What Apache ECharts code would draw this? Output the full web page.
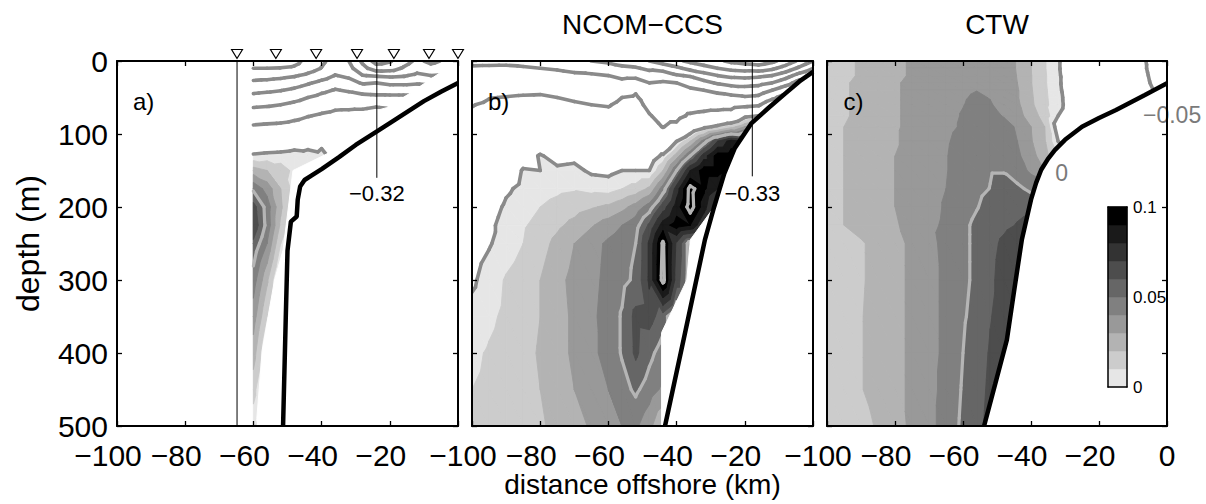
<!DOCTYPE html>
<html>
<head>
<meta charset="utf-8">
<script src="https://cdn.jsdelivr.net/npm/echarts@6/dist/echarts.min.js"></script>
<style>
  html, body { margin: 0; padding: 0; background: #fff; }
  #chart { width: 1206px; height: 504px; }
</style>
</head>
<body>
<div id="chart"></div>
<script>
// Cross-shelf sections of along-shore velocity anomaly: observations (a),
// NCOM-CCS model (b) and coastal-trapped-wave solution (c).
const FONT = 'Liberation Sans, Arial, Helvetica, sans-serif';

// grid nodes (distance offshore in km, depth in m)
const offshoreKm = [-100, -95, -90, -85, -80, -75, -70, -65, -60, -56, -52, -48, -44, -40, -36, -32, -28, -24, -20, -16, -12, -8, -4, 0];
const depthM = [0, 10, 20, 30, 40, 50, 60, 75, 90, 110, 130, 150, 175, 200, 225, 250, 300, 350, 400, 450, 500];
const _ = null;

// a) observed section (no data west of -60 km)
const obsA = [
  [_,_,_,_,_,_,_,_, -0.28,-0.28,-0.275,-0.265,-0.235,-0.21,-0.18,-0.2,-0.26,-0.32,-0.305,-0.27,-0.24,-0.26,-0.245,-0.2],
  [_,_,_,_,_,_,_,_, -0.25,-0.25,-0.248,-0.243,-0.222,-0.198,-0.168,-0.185,-0.235,-0.275,-0.27,-0.245,-0.22,-0.235,-0.225,-0.19],
  [_,_,_,_,_,_,_,_, -0.22,-0.218,-0.213,-0.205,-0.19,-0.17,-0.148,-0.16,-0.198,-0.205,-0.21,-0.205,-0.19,-0.2,-0.195,-0.17],
  [_,_,_,_,_,_,_,_, -0.19,-0.186,-0.18,-0.17,-0.155,-0.138,-0.122,-0.132,-0.155,-0.15,-0.16,-0.16,-0.155,-0.16,-0.16,-0.15],
  [_,_,_,_,_,_,_,_, -0.163,-0.158,-0.152,-0.142,-0.128,-0.11,-0.097,-0.105,-0.115,-0.118,-0.12,-0.12,-0.12,-0.125,-0.13,-0.13],
  [_,_,_,_,_,_,_,_, -0.135,-0.13,-0.125,-0.115,-0.1,-0.087,-0.077,-0.08,-0.087,-0.09,-0.09,-0.09,-0.09,-0.095,-0.1,-0.1],
  [_,_,_,_,_,_,_,_, -0.108,-0.105,-0.1,-0.09,-0.078,-0.068,-0.06,-0.06,-0.06,-0.055,-0.058,-0.065,-0.065,-0.07,-0.075,-0.08],
  [_,_,_,_,_,_,_,_, -0.076,-0.073,-0.07,-0.062,-0.052,-0.045,-0.04,-0.038,-0.035,-0.03,-0.035,-0.04,-0.045,-0.05,-0.055,-0.06],
  [_,_,_,_,_,_,_,_, -0.045,-0.042,-0.04,-0.035,-0.028,-0.025,-0.02,-0.016,-0.015,-0.01,-0.015,-0.02,-0.025,-0.03,-0.035,-0.04],
  [_,_,_,_,_,_,_,_, -0.02,-0.018,-0.016,-0.012,-0.008,-0.003,-0.002,-0.005,-0.01,-0.01,-0.01,-0.01,-0.01,-0.01,-0.01,-0.01],
  [_,_,_,_,_,_,_,_, 0.003,0.005,0.006,0.008,0.006,0.003,-0.004,-0.008,-0.01,-0.01,-0.01,-0.01,-0.01,-0.01,-0.01,-0.01],
  [_,_,_,_,_,_,_,_, 0.025,0.02,0.014,0.008,0.002,-0.004,-0.01,-0.01,-0.01,-0.01,-0.01,-0.01,-0.01,-0.01,-0.01,-0.01],
  [_,_,_,_,_,_,_,_, 0.048,0.036,0.02,0.006,-0.002,-0.01,-0.01,-0.01,-0.01,-0.01,-0.01,-0.01,-0.01,-0.01,-0.01,-0.01],
  [_,_,_,_,_,_,_,_, 0.064,0.046,0.022,0.004,-0.005,-0.01,-0.01,-0.01,-0.01,-0.01,-0.01,-0.01,-0.01,-0.01,-0.01,-0.01],
  [_,_,_,_,_,_,_,_, 0.067,0.047,0.018,0.0,-0.006,-0.01,-0.01,-0.01,-0.01,-0.01,-0.01,-0.01,-0.01,-0.01,-0.01,-0.01],
  [_,_,_,_,_,_,_,_, 0.058,0.04,0.01,-0.005,-0.01,-0.01,-0.01,-0.01,-0.01,-0.01,-0.01,-0.01,-0.01,-0.01,-0.01,-0.01],
  [_,_,_,_,_,_,_,_, 0.045,0.022,-0.006,-0.01,-0.01,-0.01,-0.01,-0.01,-0.01,-0.01,-0.01,-0.01,-0.01,-0.01,-0.01,-0.01],
  [_,_,_,_,_,_,_,_, 0.035,0.01,-0.01,-0.01,-0.01,-0.01,-0.01,-0.01,-0.01,-0.01,-0.01,-0.01,-0.01,-0.01,-0.01,-0.01],
  [_,_,_,_,_,_,_,_, 0.025,-0.003,-0.01,-0.01,-0.01,-0.01,-0.01,-0.01,-0.01,-0.01,-0.01,-0.01,-0.01,-0.01,-0.01,-0.01],
  [_,_,_,_,_,_,_,_, 0.014,-0.008,-0.01,-0.01,-0.01,-0.01,-0.01,-0.01,-0.01,-0.01,-0.01,-0.01,-0.01,-0.01,-0.01,-0.01],
  [_,_,_,_,_,_,_,_, 0.004,-0.01,-0.01,-0.01,-0.01,-0.01,-0.01,-0.01,-0.01,-0.01,-0.01,-0.01,-0.01,-0.01,-0.01,-0.01]
];

// b) NCOM-CCS model section
const ncomB = [
  [-0.11,-0.11,-0.11,-0.115,-0.12,-0.125,-0.13,-0.15,-0.16,-0.17,-0.18,-0.2,-0.22,-0.24,-0.26,-0.28,-0.29,-0.31,-0.32,-0.33,-0.31,-0.28,-0.24,-0.2],
  [-0.095,-0.094,-0.093,-0.095,-0.1,-0.104,-0.11,-0.115,-0.125,-0.14,-0.145,-0.16,-0.17,-0.19,-0.215,-0.23,-0.25,-0.265,-0.27,-0.275,-0.26,-0.23,-0.19,-0.15],
  [-0.085,-0.08,-0.079,-0.08,-0.083,-0.086,-0.093,-0.095,-0.1,-0.11,-0.11,-0.125,-0.12,-0.145,-0.155,-0.18,-0.2,-0.21,-0.215,-0.21,-0.2,-0.17,-0.13,-0.1],
  [-0.075,-0.07,-0.068,-0.068,-0.069,-0.072,-0.079,-0.08,-0.085,-0.088,-0.083,-0.1,-0.095,-0.1,-0.115,-0.135,-0.155,-0.17,-0.17,-0.165,-0.15,-0.12,-0.08,-0.06],
  [-0.066,-0.06,-0.058,-0.057,-0.056,-0.06,-0.066,-0.068,-0.072,-0.07,-0.055,-0.085,-0.085,-0.088,-0.093,-0.1,-0.11,-0.12,-0.13,-0.125,-0.1,-0.07,-0.04,-0.03],
  [-0.058,-0.051,-0.049,-0.047,-0.046,-0.05,-0.055,-0.058,-0.061,-0.05,-0.045,-0.07,-0.075,-0.078,-0.08,-0.08,-0.085,-0.09,-0.095,-0.09,-0.06,-0.03,-0.01,0.0],
  [-0.051,-0.046,-0.042,-0.04,-0.037,-0.041,-0.046,-0.05,-0.052,-0.043,-0.04,-0.058,-0.068,-0.07,-0.068,-0.065,-0.065,-0.065,-0.06,-0.055,-0.02,0.0,0.01,0.02],
  [-0.046,-0.04,-0.034,-0.03,-0.027,-0.031,-0.034,-0.04,-0.041,-0.035,-0.033,-0.048,-0.06,-0.06,-0.045,-0.04,-0.035,-0.03,-0.005,0.0,0.02,0.03,0.03,0.03],
  [-0.041,-0.035,-0.028,-0.022,-0.018,-0.022,-0.024,-0.031,-0.032,-0.028,-0.027,-0.04,-0.051,-0.042,-0.018,-0.005,0.004,0.015,0.03,0.04,0.04,0.04,0.04,0.04],
  [-0.033,-0.028,-0.021,-0.014,-0.008,-0.012,-0.012,-0.02,-0.021,-0.019,-0.018,-0.022,-0.025,0.0,0.02,0.045,0.07,0.085,0.08,0.07,0.06,0.05,0.05,0.05],
  [-0.028,-0.023,-0.016,-0.006,0.001,-0.004,-0.003,-0.01,-0.012,-0.008,-0.008,-0.01,0.003,0.025,0.05,0.075,0.095,0.095,0.09,0.08,0.07,0.06,0.06,0.06],
  [-0.023,-0.017,-0.009,0.001,0.0,0.002,0.003,-0.002,-0.003,0.0,0.0,0.0,0.02,0.05,0.08,0.095,0.095,0.09,0.08,0.07,0.07,0.06,0.06,0.06],
  [-0.018,-0.011,-0.002,0.003,0.006,0.008,0.009,0.007,0.006,0.01,0.014,0.022,0.045,0.075,0.104,0.092,0.08,0.07,0.06,0.06,0.06,0.06,0.06,0.06],
  [-0.014,-0.006,0.002,0.006,0.01,0.013,0.016,0.019,0.022,0.027,0.034,0.045,0.065,0.085,0.105,0.085,0.06,0.05,0.05,0.05,0.05,0.05,0.05,0.05],
  [-0.01,-0.003,0.005,0.009,0.013,0.018,0.023,0.029,0.035,0.04,0.046,0.062,0.085,0.095,0.09,0.07,0.05,0.05,0.05,0.05,0.05,0.05,0.05,0.05],
  [-0.006,-0.001,0.005,0.01,0.016,0.023,0.03,0.036,0.042,0.046,0.05,0.072,0.102,0.068,0.045,0.04,0.04,0.04,0.04,0.04,0.04,0.04,0.04,0.04],
  [-0.002,0.005,0.011,0.015,0.02,0.027,0.033,0.037,0.043,0.047,0.052,0.072,0.104,0.065,0.045,0.04,0.04,0.04,0.04,0.04,0.04,0.04,0.04,0.04],
  [0.004,0.008,0.012,0.016,0.02,0.026,0.032,0.038,0.044,0.051,0.063,0.064,0.055,0.04,0.04,0.04,0.04,0.04,0.04,0.04,0.04,0.04,0.04,0.04],
  [0.008,0.011,0.014,0.017,0.021,0.026,0.032,0.038,0.043,0.051,0.062,0.053,0.045,0.04,0.04,0.04,0.04,0.04,0.04,0.04,0.04,0.04,0.04,0.04],
  [0.01,0.012,0.014,0.017,0.02,0.024,0.03,0.035,0.04,0.046,0.052,0.045,0.038,0.035,0.035,0.035,0.035,0.035,0.035,0.035,0.035,0.035,0.035,0.035],
  [0.012,0.013,0.015,0.017,0.019,0.022,0.027,0.031,0.035,0.04,0.042,0.033,0.02,0.02,0.02,0.02,0.02,0.02,0.02,0.02,0.02,0.02,0.02,0.02]
];

// c) coastal-trapped-wave section
const ctwC = [
  [0.015,0.018,0.021,0.024,0.028,0.031,0.033,0.035,0.037,0.038,0.038,0.036,0.029,0.02,0.011,0.001,-0.007,-0.015,-0.022,-0.03,-0.038,-0.046,-0.055,-0.065],
  [0.015,0.018,0.021,0.024,0.028,0.031,0.033,0.035,0.037,0.0385,0.038,0.036,0.029,0.02,0.011,0.001,-0.007,-0.015,-0.022,-0.03,-0.038,-0.046,-0.054,-0.064],
  [0.015,0.018,0.021,0.024,0.028,0.031,0.034,0.036,0.038,0.039,0.0385,0.0365,0.0295,0.0205,0.0115,0.0015,-0.007,-0.014,-0.021,-0.029,-0.037,-0.045,-0.053,-0.062],
  [0.016,0.019,0.022,0.025,0.029,0.032,0.034,0.036,0.0385,0.0395,0.039,0.037,0.03,0.0205,0.0115,0.0015,-0.006,-0.014,-0.021,-0.028,-0.036,-0.044,-0.052,-0.06],
  [0.016,0.019,0.022,0.025,0.029,0.032,0.035,0.037,0.039,0.0399,0.0396,0.037,0.031,0.021,0.012,0.002,-0.006,-0.013,-0.02,-0.027,-0.035,-0.043,-0.05,-0.058],
  [0.016,0.019,0.022,0.025,0.029,0.032,0.035,0.037,0.0395,0.0408,0.0398,0.0375,0.031,0.0215,0.0125,0.0025,-0.005,-0.012,-0.019,-0.026,-0.033,-0.04,-0.047,-0.054],
  [0.016,0.019,0.022,0.025,0.029,0.032,0.035,0.038,0.0398,0.0415,0.0405,0.038,0.032,0.022,0.013,0.003,-0.005,-0.012,-0.018,-0.025,-0.032,-0.038,-0.045,-0.05],
  [0.016,0.019,0.022,0.025,0.029,0.032,0.035,0.038,0.0405,0.043,0.0425,0.0395,0.034,0.025,0.016,0.0,-0.006,-0.012,-0.018,-0.024,-0.03,-0.036,-0.04,-0.045],
  [0.017,0.02,0.023,0.026,0.029,0.032,0.035,0.038,0.041,0.044,0.044,0.043,0.039,0.03,0.02,-0.007,-0.012,-0.017,-0.022,-0.027,-0.032,-0.036,-0.04,-0.044],
  [0.017,0.02,0.023,0.026,0.029,0.033,0.036,0.039,0.043,0.046,0.047,0.045,0.04,0.031,0.021,0.0,-0.01,-0.015,-0.02,-0.025,-0.03,-0.035,-0.04,-0.04],
  [0.017,0.02,0.023,0.026,0.03,0.033,0.036,0.0395,0.044,0.047,0.049,0.047,0.042,0.034,0.024,0.01,0.0,-0.01,-0.015,-0.02,-0.025,-0.03,-0.035,-0.04],
  [0.017,0.02,0.023,0.026,0.03,0.033,0.037,0.0395,0.044,0.047,0.0495,0.0495,0.045,0.038,0.03,0.02,0.01,0.0,-0.01,-0.015,-0.02,-0.025,-0.03,-0.035],
  [0.017,0.02,0.023,0.026,0.03,0.033,0.037,0.04,0.045,0.048,0.0502,0.053,0.052,0.048,0.044,0.04,0.03,0.02,0.01,0.0,-0.01,-0.015,-0.02,-0.025],
  [0.017,0.02,0.023,0.026,0.03,0.033,0.037,0.041,0.046,0.0495,0.053,0.056,0.058,0.057,0.055,0.05,0.04,0.03,0.02,0.01,0.0,-0.01,-0.015,-0.02],
  [0.017,0.02,0.023,0.026,0.029,0.033,0.038,0.0415,0.048,0.052,0.055,0.058,0.0605,0.062,0.062,0.06,0.05,0.04,0.03,0.02,0.01,0.0,-0.01,-0.015],
  [0.016,0.0185,0.019,0.023,0.027,0.032,0.037,0.043,0.048,0.052,0.057,0.062,0.066,0.067,0.067,0.065,0.06,0.05,0.04,0.03,0.02,0.01,0.0,-0.01],
  [0.016,0.018,0.019,0.023,0.027,0.032,0.037,0.042,0.048,0.052,0.058,0.064,0.067,0.068,0.068,0.066,0.06,0.05,0.04,0.03,0.02,0.01,0.0,-0.01],
  [0.016,0.018,0.0195,0.0235,0.027,0.032,0.037,0.042,0.049,0.053,0.0595,0.064,0.066,0.066,0.066,0.065,0.06,0.05,0.04,0.03,0.02,0.01,0.0,-0.01],
  [0.016,0.018,0.0195,0.0235,0.027,0.032,0.037,0.042,0.05,0.055,0.061,0.065,0.066,0.066,0.066,0.065,0.06,0.05,0.04,0.03,0.02,0.01,0.0,-0.01],
  [0.016,0.018,0.0195,0.0235,0.027,0.032,0.037,0.043,0.051,0.056,0.062,0.065,0.066,0.066,0.066,0.065,0.06,0.05,0.04,0.03,0.02,0.01,0.0,-0.01],
  [0.017,0.019,0.0185,0.0205,0.026,0.032,0.037,0.044,0.052,0.057,0.063,0.065,0.066,0.066,0.066,0.065,0.06,0.05,0.04,0.03,0.02,0.01,0.0,-0.01]
];

// bottom profiles [km, m]
const bottomA = [[0,30],[-5,42],[-10,55],[-15,70],[-20,85],[-24,97],[-30,115],[-35,132],[-40,148],[-43,157],[-45,163],[-46.3,172],[-47,190],[-47.3,213],[-49,220],[-50,260],[-50.5,350],[-51.3,500]];
const bottomB = [[0,15],[-4,28],[-8,44],[-13,64],[-18,85],[-23,120],[-26,154],[-29,200],[-31.7,245],[-37.5,372],[-43.4,500]];
const bottomC = [[0,30.6],[-6.5,46.5],[-15,67],[-20,78],[-25,90],[-30,108],[-33,122],[-35,134],[-37,149],[-38.5,167],[-40,190],[-42.7,245],[-45,316],[-47.1,382],[-50.5,442],[-53.8,500]];

// edges of the sampled region (outside is blank)
const noDataA = [[0,0],[-4,12],[-14,44],[-21,64],[-30,76],[-42,86],[-35,113],[-37.5,125],[-48.4,150],[-51.3,259],[-53.8,300],[-57.4,396],[-59,490],[-59,500],[0,500]];
const noDataB = [[-29,200],[-36,245],[-37,300],[-44.4,372],[-44.4,500],[-30,500]];

// station positions and section markers
const stationKm = [-64.8, -53.4, -41.6, -29.6, -18.8, -8.5, 0];
const stationMarkDepth = -9.6;
const offshoreLineA = [[-64.8, 0], [-64.8, 500]];
const minLineA = [[-23.8, 0], [-23.8, 160]];
const minLineB = [[-17.8, 0], [-17.8, 158]];
const minLabelA = { value: [-23.8, 182], name: '−0.32' };
const minLabelB = { value: [-17.8, 181], name: '−0.33' };
const contourLabelsC = [{ value: [-31, 154], name: '0' }, { value: [1.5, 74], name: '−0.05' }];
const panelTags = ['a)', 'b)', 'c)'];
const panelTagPos = [-92.2, 55];
const panelTitles = ['', 'NCOM−CCS', 'CTW'];
const kmTicks = [-100, -80, -60, -40, -20, 0];

// contour levels and gray shades
const shadeLevels = [0, 0.01, 0.02, 0.03, 0.04, 0.05, 0.06, 0.07, 0.08, 0.09];
const shadeColors = ['#e6e6e6', '#cccccc', '#b3b3b3', '#999999', '#808080', '#666666', '#4d4d4d', '#333333', '#1a1a1a', '#000000'];
const grayLineLevels = [-0.3, -0.25, -0.2, -0.15, -0.1, -0.05, 0];
const lightLineLevels = [0.05, 0.1];
const colorbarTicks = [0, 0.05, 0.1];

// ---------- contouring on a triangulated grid ----------
function buildTriangles(values) {
  const tris = [];
  for (let j = 0; j < depthM.length - 1; j++) {
    for (let i = 0; i < offshoreKm.length - 1; i++) {
      const p = (ii, jj) => [offshoreKm[ii], depthM[jj], values[jj][ii]];
      const a = p(i, j), b = p(i + 1, j), c = p(i + 1, j + 1), d = p(i, j + 1);
      [[a, b, c], [a, c, d]].forEach(t => {
        if (t.every(q => q[2] !== null)) tris.push(t);
      });
    }
  }
  return tris;
}

function clipAbove(poly, L) {
  const out = [];
  for (let i = 0; i < poly.length; i++) {
    const a = poly[i], b = poly[(i + 1) % poly.length];
    const ina = a[2] >= L, inb = b[2] >= L;
    if (ina) out.push(a);
    if (ina !== inb) {
      const t = (L - a[2]) / (b[2] - a[2]);
      out.push([a[0] + t * (b[0] - a[0]), a[1] + t * (b[1] - a[1]), L]);
    }
  }
  return out;
}

function crossing(tri, L) {
  const pts = [];
  for (let i = 0; i < 3; i++) {
    const a = tri[i], b = tri[(i + 1) % 3];
    if ((a[2] >= L) !== (b[2] >= L)) {
      const t = (L - a[2]) / (b[2] - a[2]);
      pts.push([a[0] + t * (b[0] - a[0]), a[1] + t * (b[1] - a[1])]);
    }
  }
  return pts.length === 2 ? pts : null;
}

function toPixels(tri, api) {
  return tri.map(q => { const c = api.coord([q[0], q[1]]); return [c[0], c[1], q[2]]; });
}

function triData(tris) {
  return tris.map((t, k) => [(t[0][0] + t[1][0] + t[2][0]) / 3, (t[0][1] + t[1][1] + t[2][1]) / 3, k]);
}

// one series per shade level, drawn lightest first so each band covers the previous one
function fillSeriesList(values, g) {
  const tris = buildTriangles(values);
  return shadeLevels.map((L, k) => {
    const sel = tris.filter(t => Math.max(t[0][2], t[1][2], t[2][2]) >= L);
    return {
      type: 'custom', xAxisIndex: 2 * g, yAxisIndex: 2 * g, z: 1, clip: true, silent: true,
      data: triData(sel),
      renderItem(params, api) {
        const poly = clipAbove(toPixels(sel[api.value(2)], api), L);
        if (poly.length < 3) return null;
        return {
          type: 'polygon',
          shape: { points: poly.map(q => [q[0], q[1]]) },
          style: { fill: shadeColors[k], stroke: shadeColors[k], lineWidth: 0.9 }
        };
      }
    };
  });
}

function lineSeries(values, g) {
  const tris = buildTriangles(values);
  const sets = [[grayLineLevels, '#8a8a8a', 3.6], [lightLineLevels, '#b5b5b5', 3.2]];
  return {
    type: 'custom', xAxisIndex: 2 * g, yAxisIndex: 2 * g, z: 2, clip: true, silent: true,
    data: triData(tris),
    renderItem(params, api) {
      const px = toPixels(tris[api.value(2)], api);
      const children = [];
      sets.forEach(([levels, color, w]) => {
        levels.forEach(L => {
          const s = crossing(px, L);
          if (s) children.push({
            type: 'line',
            shape: { x1: s[0][0], y1: s[0][1], x2: s[1][0], y2: s[1][1] },
            style: { stroke: color, lineWidth: w, lineCap: 'round' }
          });
        });
      });
      return { type: 'group', children };
    }
  };
}

function maskSeries(points, g) {
  return {
    type: 'custom', xAxisIndex: 2 * g, yAxisIndex: 2 * g, z: 3, clip: true, silent: true,
    data: [[-50, 250]],
    renderItem(params, api) {
      return {
        type: 'polygon',
        shape: { points: points.map(p => api.coord(p)) },
        style: { fill: '#ffffff', stroke: '#ffffff', lineWidth: 1 }
      };
    }
  };
}

function plainLine(data, g, width, z) {
  return {
    type: 'line', xAxisIndex: 2 * g, yAxisIndex: 2 * g, data, z,
    showSymbol: false, symbol: 'none', silent: true, animation: false,
    lineStyle: { color: '#000', width }
  };
}

function textSeries(items, g, size, color) {
  return {
    type: 'scatter', xAxisIndex: 2 * g, yAxisIndex: 2 * g, z: 8, clip: false, silent: true,
    symbolSize: 0, data: items, itemStyle: { opacity: 1 },
    label: { show: true, position: 'inside', formatter: '{b}', fontSize: size, color, opacity: 1, fontFamily: FONT }
  };
}

// distance tick labels under each panel: digits centred on the tick, minus sign hanging left
function tickLabelSeries(g, showZero) {
  const items = kmTicks.filter(v => v !== 0 || showZero).map(v => ({
    value: [v, 500],
    name: v < 0 ? '−' + Math.abs(v) : String(v),
    label: { offset: [v < 0 ? -9 : 0, 29] }
  }));
  return textSeries(items, g, 30, '#000');
}

// ---------- axes ----------
const grids = [
  { left: 117, top: 61, width: 341, height: 365 },
  { left: 472, top: 61, width: 341, height: 365 },
  { left: 827, top: 61, width: 340, height: 365 },
  { left: 1108, top: 207, width: 19, height: 180 }
].map(g => Object.assign({ containLabel: false, outerBoundsMode: 'none' }, g));

const frameLine = { show: true, onZero: false, lineStyle: { color: '#000', width: 2 } };
const tick = { show: true, inside: true, length: 5, lineStyle: { color: '#000', width: 1.3 } };

const xAxes = [], yAxes = [];
for (let g = 0; g < 3; g++) {
  xAxes.push({
    type: 'value', gridIndex: g, position: 'bottom', min: -100, max: 0, interval: 20, z: 10,
    axisLine: frameLine, axisTick: tick, splitLine: { show: false }, axisLabel: { show: false },
    name: g === 1 ? 'distance offshore (km)' : '', nameLocation: 'middle', nameGap: 44,
    nameTextStyle: { fontSize: 28, lineHeight: 28, fontFamily: FONT, color: '#000' }
  });
  xAxes.push({
    type: 'value', gridIndex: g, position: 'top', min: -100, max: 0, interval: 20, z: 10,
    axisLine: frameLine, axisTick: tick, axisLabel: { show: false }, splitLine: { show: false },
    name: panelTitles[g], nameLocation: 'middle', nameGap: 23,
    nameTextStyle: { fontSize: 28, fontFamily: FONT, color: '#000' }
  });
  yAxes.push({
    type: 'value', gridIndex: g, position: 'left', min: 0, max: 500, interval: 100, inverse: true, z: 10,
    axisLine: frameLine, axisTick: tick, splitLine: { show: false },
    axisLabel: { show: g === 0, showMinLabel: true, showMaxLabel: true, fontSize: 30, lineHeight: 24, fontFamily: FONT, color: '#000', margin: 9 },
    name: g === 0 ? 'depth (m)' : '', nameLocation: 'middle', nameGap: 73,
    nameTextStyle: { fontSize: 32, fontFamily: FONT, color: '#000' }
  });
  yAxes.push({
    type: 'value', gridIndex: g, position: 'right', min: 0, max: 500, interval: 100, inverse: true, z: 10,
    axisLine: frameLine, axisTick: tick, axisLabel: { show: false }, splitLine: { show: false }
  });
}
// colour bar axes
const cbLine = { show: true, onZero: false, lineStyle: { color: '#000', width: 1.5 } };
xAxes.push({ type: 'value', gridIndex: 3, position: 'bottom', min: 0, max: 1, z: 12, axisLine: cbLine, axisTick: { show: false }, axisLabel: { show: false }, splitLine: { show: false } });
xAxes.push({ type: 'value', gridIndex: 3, position: 'top', min: 0, max: 1, z: 12, axisLine: cbLine, axisTick: { show: false }, axisLabel: { show: false }, splitLine: { show: false } });
yAxes.push({ type: 'value', gridIndex: 3, position: 'left', min: 0, max: 0.1, interval: 0.05, z: 12, axisLine: cbLine, axisTick: { show: false }, axisLabel: { show: false }, splitLine: { show: false } });
yAxes.push({
  type: 'value', gridIndex: 3, position: 'right', min: colorbarTicks[0], max: colorbarTicks[2], interval: colorbarTicks[1], z: 12,
  axisLine: cbLine, axisTick: { show: false }, splitLine: { show: false },
  axisLabel: { show: true, showMinLabel: true, showMaxLabel: true, fontSize: 17, fontFamily: FONT, color: '#000', margin: 6 }
});

// ---------- series ----------
const series = [];
[obsA, ncomB, ctwC].forEach((vals, g) => {
  fillSeriesList(vals, g).forEach(s => series.push(s));
  series.push(lineSeries(vals, g));
});
series.push(maskSeries(noDataA, 0));
series.push(maskSeries(noDataB, 1));
[bottomA, bottomB, bottomC].forEach((b, g) => {
  series.push(maskSeries(b.concat([[0, 500]]), g));
  series.push(plainLine(b, g, 4.5, 5));
});
series.push(plainLine(offshoreLineA, 0, 1, 6));
series.push(plainLine(minLineA, 0, 1, 6));
series.push(plainLine(minLineB, 1, 1, 6));
series.push(textSeries([minLabelA], 0, 22, '#000'));
series.push(textSeries([minLabelB], 1, 22, '#000'));
series.push(textSeries(contourLabelsC, 2, 23, '#7a7a7a'));
panelTags.forEach((t, g) => series.push(textSeries([{ value: panelTagPos, name: t }], g, 24, '#000')));
[0, 1, 2].forEach(g => series.push(tickLabelSeries(g, g === 2)));
series.push({
  type: 'scatter', xAxisIndex: 0, yAxisIndex: 0, z: 9, clip: false, silent: true,
  data: stationKm.map(x => [x, stationMarkDepth]),
  symbol: 'triangle', symbolRotate: 180, symbolSize: [11, 9],
  itemStyle: { color: '#fff', borderColor: '#000', borderWidth: 1.1, opacity: 1 }
});
// colour bar, drawn above panel c's fills and masks
series.push({
  type: 'custom', xAxisIndex: 6, yAxisIndex: 6, z: 11, clip: false, silent: true,
  data: shadeLevels.map((lo, k) => [0.5, lo + 0.005, k]),
  renderItem(params, api) {
    const k = api.value(2);
    const lo = shadeLevels[k], hi = lo + 0.01;
    const p0 = api.coord([0, hi]), p1 = api.coord([1, lo]);
    return {
      type: 'rect',
      shape: { x: p0[0], y: p0[1], width: p1[0] - p0[0], height: p1[1] - p0[1] },
      style: { fill: shadeColors[k], stroke: shadeColors[k], lineWidth: 0.5 }
    };
  }
});

const chart = echarts.init(document.getElementById('chart'), null, { renderer: 'svg' });
chart.setOption({
  animation: false,
  backgroundColor: '#ffffff',
  textStyle: { fontFamily: FONT },
  grid: grids,
  xAxis: xAxes,
  yAxis: yAxes,
  series
});
</script>
</body>
</html>
